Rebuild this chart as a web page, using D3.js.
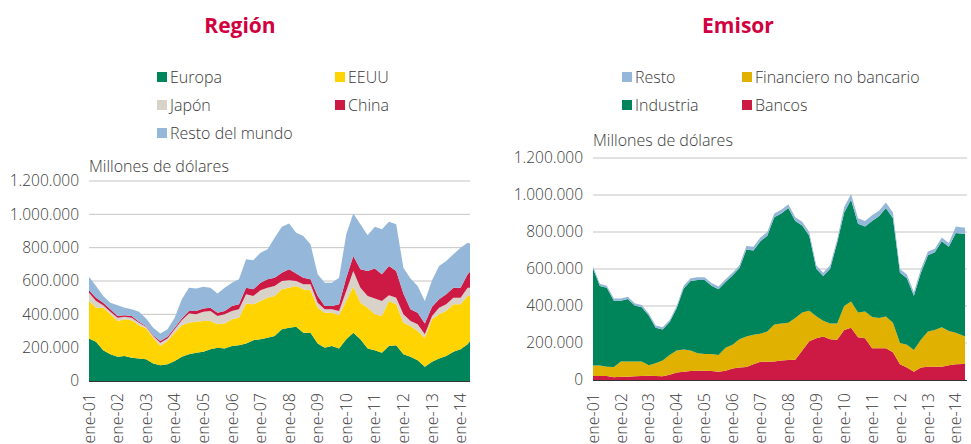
<!DOCTYPE html>
<html>
<head>
<meta charset="utf-8">
<script src="https://cdn.jsdelivr.net/npm/d3@7"></script>
<style>
  body { margin: 0; background: #fff; }
  text { font-family: "Open Sans", sans-serif; font-weight: 300; fill: #3a3a3a; }
</style>
</head>
<body>
<div id="chart"></div>
<script>
var width = 971,
        height = 444;

// fechas trimestrales ene-01 .. abr-14, mas may-14
var fechas = d3.timeMonth.every(3).range(new Date(2001, 0, 1), new Date(2014, 6, 1));
fechas.push(new Date(2014, 4, 1));

// miles de millones de dolares
var europa = [255,235,185,160,145,150,140,135,130,105,95,100,120,145,160,170,175,190,200,195,210,215,225,245,250,260,270,310,320,325,290,290,225,200,210,195,250,290,250,195,185,170,210,215,160,145,125,85,115,135,150,175,190,220,240];
var eeuu = [225,205,255,240,215,220,225,200,185,155,115,140,170,190,190,185,185,170,140,150,160,165,240,215,230,240,240,240,240,245,260,255,215,210,200,200,230,275,220,245,215,220,270,245,190,185,175,175,255,265,270,285,270,290,270];
var japon = [50,40,15,15,20,15,15,15,10,10,20,15,20,30,55,45,55,60,50,55,50,50,55,50,65,60,60,50,45,30,30,35,30,20,20,25,60,95,90,70,95,90,35,40,50,30,40,20,20,40,40,40,40,50,50];
var china = [15,20,15,15,10,10,10,5,5,5,10,10,10,10,15,20,20,20,20,20,30,30,40,40,45,50,50,50,65,45,40,30,40,20,20,40,80,90,110,150,180,160,175,160,125,70,70,65,55,50,60,60,60,80,95];
var restoMundo = [80,70,40,40,65,45,40,60,45,45,45,45,60,115,140,135,130,120,115,140,140,150,170,175,180,180,240,275,275,245,250,210,130,140,140,160,260,255,270,215,250,270,265,280,155,185,160,135,160,200,200,200,240,190,170];

var bancos = [22,22,22,15,18,18,20,22,23,22,20,28,40,45,48,50,50,48,45,50,62,68,70,85,99,99,100,105,108,110,160,210,226,235,220,217,270,283,231,226,171,171,171,150,85,67,45,67,72,72,72,80,85,87,87];
var financiero = [56,56,50,55,82,82,80,78,57,68,85,107,120,120,112,95,90,92,90,125,128,152,165,160,151,163,200,200,202,225,205,165,119,85,85,88,130,142,134,144,169,164,172,160,115,123,117,150,190,198,213,185,170,153,148];
var industria = [525,430,426,358,328,338,303,293,268,193,168,178,228,330,375,395,400,370,355,355,375,385,470,455,500,518,580,595,620,525,470,405,257,242,297,437,505,550,480,460,520,550,587,565,380,360,293,363,413,420,465,455,540,550,555];
var resto = [12,12,12,12,12,12,12,12,12,12,12,12,12,15,15,15,15,15,15,15,15,15,20,20,20,20,20,20,20,20,20,20,18,18,18,18,30,30,30,30,30,30,30,30,20,20,20,20,20,20,20,20,35,35,35];

var yTicks = [0, 200, 400, 600, 800, 1000, 1200];

var es = d3.formatLocale({decimal: ",", thousands: ".", grouping: [3], currency: ["", ""]});
var fmt = es.format(",");
var mes = d3.timeFormat("%y");

var svg = d3.select("#chart").append("svg")
        .attr("width", width)
        .attr("height", height);

function panel(cfg) {
    var rows = fechas.map(function (d, i) {
        var r = {fecha: d};
        cfg.series.forEach(function (s) { r[s.name] = s.values[i]; });
        return r;
    });
    var keys = cfg.series.map(function (s) { return s.name; });
    var stacked = d3.stack().keys(keys)(rows);

    var x = d3.scaleTime()
            .domain([fechas[0], fechas[fechas.length - 1]])
            .range([cfg.x0, cfg.x1]);
    var y = d3.scaleLinear().domain([0, 1200]).range([cfg.y0, cfg.y1]);

    var g = svg.append("g");

    // titulo
    g.append("text")
            .attr("x", cfg.titleX)
            .attr("y", 33)
            .attr("text-anchor", "middle")
            .style("font-size", "21px")
            .style("font-weight", "bold")
            .style("fill", "#d2003f")
            .text(cfg.title);

    // leyenda
    cfg.legend.forEach(function (l) {
        var s = cfg.series.filter(function (d) { return d.name === l.name; })[0];
        g.append("rect")
                .attr("x", l.x)
                .attr("y", l.y - 5)
                .attr("width", 10)
                .attr("height", 10)
                .attr("fill", s.color);
        g.append("text")
                .attr("x", l.x + 13)
                .attr("y", l.y)
                .attr("dy", "0.35em")
                .style("font-size", "16px")
                .text(l.name);
    });

    g.append("text")
            .attr("x", cfg.x0)
            .attr("y", cfg.unitsY)
            .style("font-size", "16px")
            .text("Millones de dólares");

    // rejilla
    g.selectAll(".grid")
            .data(yTicks.slice(1))
            .enter().append("line")
            .attr("x1", cfg.x0)
            .attr("x2", cfg.gridEnd)
            .attr("y1", function (d) { return y(d); })
            .attr("y2", function (d) { return y(d); })
            .attr("stroke", "#c4c4c4")
            .attr("stroke-width", 1);

    g.selectAll(".ylab")
            .data(yTicks)
            .enter().append("text")
            .attr("x", cfg.x0 - 10)
            .attr("y", function (d) { return y(d); })
            .attr("dy", "0.35em")
            .attr("text-anchor", "end")
            .style("font-size", "15.5px")
            .text(function (d) { return fmt(d * 1000); });

    var area = d3.area()
            .x(function (d) { return x(d.data.fecha); })
            .y0(function (d) { return y(d[0]); })
            .y1(function (d) { return y(d[1]); });

    g.selectAll(".capa")
            .data(stacked)
            .enter().append("path")
            .attr("d", area)
            .attr("fill", function (d, i) { return cfg.series[i].color; });

    g.append("line")
            .attr("x1", cfg.x0)
            .attr("x2", cfg.gridEnd)
            .attr("y1", cfg.y0 + 0.5)
            .attr("y2", cfg.y0 + 0.5)
            .attr("stroke", "#333")
            .attr("stroke-width", 1.2);

    var anios = d3.timeYear.range(new Date(2001, 0, 1), new Date(2014, 1, 1));
    g.selectAll(".xlab")
            .data(anios)
            .enter().append("text")
            .attr("transform", function (d) {
                return "translate(" + x(d) + "," + 393 + ") rotate(-90)";
            })
            .attr("dy", "0.35em")
            .attr("text-anchor", "end")
            .style("font-size", "16px")
            .text(function (d) { return "ene-" + mes(d); });
}

panel({
    title: "Región",
    titleX: 240,
    x0: 89, x1: 470, gridEnd: 470,
    y0: 381, y1: 181,
    unitsY: 172,
    series: [
        {name: "Europa", values: europa, color: "#00845a"},
        {name: "EEUU", values: eeuu, color: "#ffd400"},
        {name: "Japón", values: japon, color: "#d8d2c9"},
        {name: "China", values: china, color: "#cc1a45"},
        {name: "Resto del mundo", values: restoMundo, color: "#95b8da"}
    ],
    legend: [
        {name: "Europa", x: 157, y: 77},
        {name: "EEUU", x: 335, y: 77},
        {name: "Japón", x: 157, y: 105},
        {name: "China", x: 335, y: 105},
        {name: "Resto del mundo", x: 157, y: 133}
    ]
});

panel({
    title: "Emisor",
    titleX: 738,
    x0: 593, x1: 965, gridEnd: 967,
    y0: 380, y1: 158,
    unitsY: 146,
    series: [
        {name: "Bancos", values: bancos, color: "#cc1a45"},
        {name: "Financiero no bancario", values: financiero, color: "#e0b100"},
        {name: "Industria", values: industria, color: "#00845a"},
        {name: "Resto", values: resto, color: "#95b8da"}
    ],
    legend: [
        {name: "Resto", x: 622, y: 77},
        {name: "Financiero no bancario", x: 742, y: 77},
        {name: "Industria", x: 622, y: 105},
        {name: "Bancos", x: 742, y: 105}
    ]
});
</script>
</body>
</html>
